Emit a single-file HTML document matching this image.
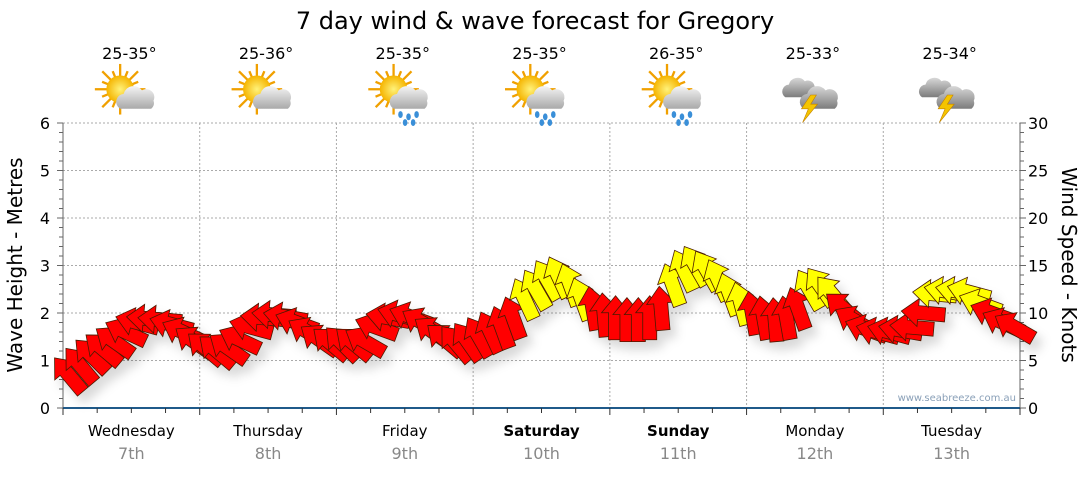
<!DOCTYPE html>
<html><head><meta charset="utf-8">
<style>
body{margin:0;background:#fff;font-family:"Liberation Sans","DejaVu Sans",sans-serif;}
svg text{font-family:"DejaVu Sans","Liberation Sans",sans-serif;}
</style></head>
<body>
<svg id="chart" width="1080" height="475" viewBox="0 0 1080 475" xmlns="http://www.w3.org/2000/svg">
<defs>
<filter id="sh" x="-50%" y="-50%" width="200%" height="200%"><feDropShadow dx="6" dy="8" stdDeviation="5" flood-color="#000" flood-opacity="0.15"/></filter>
<radialGradient id="sun" cx="50%" cy="50%" r="50%"><stop offset="0" stop-color="#fff27a"/><stop offset="1" stop-color="#f5b400"/></radialGradient>
<linearGradient id="cl" x1="0" y1="0" x2="0" y2="1"><stop offset="0" stop-color="#f4f4f4"/><stop offset="1" stop-color="#a9a9a9"/></linearGradient>
<linearGradient id="dcl" x1="0" y1="0" x2="0" y2="1"><stop offset="0" stop-color="#d8d8d8"/><stop offset="1" stop-color="#7c7c7c"/></linearGradient>
</defs>
<text x="535" y="29" font-size="24" text-anchor="middle" fill="#000">7 day wind &amp; wave forecast for Gregory</text>
<g id="grid"></g>
<g id="icons"></g>
<g id="arrows" filter="url(#sh)"></g>
<text transform="translate(22,265) rotate(-90)" font-size="20" text-anchor="middle">Wave Height - Metres</text>
<text transform="translate(1062,265) rotate(90)" font-size="20" text-anchor="middle">Wind Speed - Knots</text>
<text x="1016" y="401" font-size="10" fill="#8aa0b8" text-anchor="end">www.seabreeze.com.au</text>
</svg>
<script>
const days=["Wednesday","Thursday","Friday","Saturday","Sunday","Monday","Tuesday"];
const dates=["7th","8th","9th","10th","11th","12th","13th"];
const temps=["25-35°","25-36°","25-35°","25-35°","26-35°","25-33°","25-34°"];
const weather=["partly","partly","rain","rain","rain","storm","storm"];
const waveTicks=[0,1,2,3,4,5,6];
const knotTicks=[0,5,10,15,20,25,30];
const windSpeed=[3.5,4.5,5.5,6.2,7,8,9,9.4,9.3,8.8,8,7,
 6.3,6,6.3,7.2,8.5,9.5,9.8,9.6,9,8,7.2,6.8,
 6.8,6.8,7,8.5,9.5,9.8,9.6,9,8,7.2,6.8,7,
 7.5,8,8.5,9.5,11.5,12.5,13.5,13.8,13,11.5,10.5,9.8,
 9.5,9.3,9.3,9.5,10.5,13,14.5,15,14.5,13.5,12,11,
 10,9.5,9.3,9.5,10.5,12.5,12.8,12,10.5,9.2,8.3,8,
 8,8.2,8.5,10,12,12.3,12.3,12.2,11,10,9,8.5];
const windDir=[-40,-40,-45,-50,-55,-65,-75,-85,-85,-75,-65,-55,
 -50,-50,-55,-65,-75,-85,-85,-80,-70,-60,-55,-50,
 -45,-50,-60,-70,-80,-75,-70,-60,-55,-50,-40,-35,
 -30,-25,-20,-20,-25,-30,-30,-25,-20,-20,-10,-5,
 0,0,0,0,-5,-20,-25,-30,-30,-25,-20,-15,
 -10,-10,-5,-10,-20,-30,-35,-40,-50,-60,-70,-75,
 -75,-80,-85,-85,-85,-80,-80,-75,-70,-70,-65,-60];
const NS="http://www.w3.org/2000/svg";
const X0=63,X1=1020,Y0=408,Y1=123;
const dayW=(X1-X0)/7;
const PER=12;
const yW=v=>Y0-(v/6)*(Y0-Y1);
const yK=v=>Y0-(v/30)*(Y0-Y1);
const xT=i=>X0+(i+0.5)*dayW/PER;
function mk(t,a,p){const e=document.createElementNS(NS,t);for(const k in a)e.setAttribute(k,a[k]);(p||document.getElementById('chart')).appendChild(e);return e;}
const g=document.getElementById('grid');
waveTicks.forEach(v=>{
 if(v>0){const l=mk('line',{x1:X0,x2:X1,y1:yW(v),y2:yW(v),stroke:'#aaa','stroke-dasharray':'2,2'},g);
 
 }
 const t=mk('text',{x:50,y:yW(v)+6,'font-size':16,'text-anchor':'end',fill:'#000'},g);t.textContent=v;
 
 
});
knotTicks.forEach(v=>{
 const t=mk('text',{x:1028,y:yK(v)+6,'font-size':16,'text-anchor':'start',fill:'#000'},g);t.textContent=v;
 
 
});
for(let k=0;k<=30;k++){const y=yK(k);const w=k%5==0?6:4;
 mk('line',{x1:X0-w,x2:X0,y1:y,y2:y,stroke:'#666'},g);mk('line',{x1:X1,x2:X1+w,y1:y,y2:y,stroke:'#666'},g);}
mk('line',{x1:X0,x2:X0,y1:Y1,y2:Y0,stroke:'#666'},g);
mk('line',{x1:X1,x2:X1,y1:Y1,y2:Y0,stroke:'#666'},g);
for(let d=1;d<7;d++){const x=X0+d*dayW;const l=mk('line',{x1:x,x2:x,y1:Y1,y2:Y0,stroke:'#aaa','stroke-dasharray':'2,2'},g);
 
 }
mk('line',{x1:X0,x2:X1,y1:Y0,y2:Y0,stroke:'#1f5a8a','stroke-width':2},g);
for(let i=0;i<=28;i++){const x=X0+i*dayW/4;mk('line',{x1:x,x2:x,y1:Y0,y2:Y0+(i%4==0?7:5),stroke:'#333'},g);}
const ic=document.getElementById('icons');
days.forEach((d,i)=>{
 const cx=X0+(i+0.5)*dayW;
 const t=mk('text',{x:cx,y:436,'font-size':15,'text-anchor':'middle','font-weight':(i==3||i==4)?'bold':'normal'},g);t.textContent=d;
 
 
 const t2=mk('text',{x:cx,y:459,'font-size':16,'text-anchor':'middle',fill:'#888'},g);t2.textContent=dates[i];
 
 
 const t3=mk('text',{x:cx-2,y:59,'font-size':16,'text-anchor':'middle'},ic);t3.textContent=temps[i];
 
 
 const w=mk('g',{transform:`translate(${cx-2},95) scale(1.15)`},ic);
 
 
 const ty=weather[i];
 if(ty!='storm'){
  for(let r=0;r<16;r++){const a=r*Math.PI/8;mk('line',{x1:Math.cos(a)*10-8,y1:Math.sin(a)*10-5,x2:Math.cos(a)*(r%2?17:22)-8,y2:Math.sin(a)*(r%2?17:22)-5,stroke:'#f0a000','stroke-width':2},w);}
  mk('circle',{cx:-8,cy:-5,r:12,fill:'url(#sun)'},w);
  mk('path',{d:'M-8 12 a7 7 0 0 1 3-13 a9 9 0 0 1 16-3 a7 7 0 0 1 10 9 a6 6 0 0 1-2 7z',fill:'url(#cl)'},w);
  if(ty=='rain'){[[ -2,17],[5,19],[12,17],[2,24],[9,24]].forEach(p=>mk('ellipse',{cx:p[0],cy:p[1],rx:2,ry:3,fill:'#3a8fd8'},w));}
 } else {
  mk('path',{d:'M-24 2 a6 6 0 0 1 3-11 a8 8 0 0 1 14-3 a6 6 0 0 1 8 8 a5 5 0 0 1-2 6z',fill:'url(#dcl)'},w);
  mk('path',{d:'M-8 12 a7 7 0 0 1 3-13 a9 9 0 0 1 16-3 a7 7 0 0 1 10 9 a6 6 0 0 1-2 7z',fill:'url(#dcl)'},w);
  mk('path',{d:'M-2 0 L-10 12 L-4 12 L-9 24 L4 8 L-2 8 L3 0z',fill:'#f5c400',stroke:'#c08000','stroke-width':0.5},w);
 }
});
const ar=document.getElementById('arrows');
windSpeed.forEach((v,i)=>{
 const x=xT(i),y=yK(v);
 const p=mk('path',{d:'M0-22 L14-5 L7-5 L7 22 L-7 22 L-7-5 L-14-5Z',fill:v>=11?'#ffff00':'#ff0000',stroke:'#4a1a00','stroke-width':0.8,'stroke-linejoin':'miter',transform:`translate(${x},${y}) rotate(${windDir[i]})`},ar);
 
 
});
</script>
</body></html>
